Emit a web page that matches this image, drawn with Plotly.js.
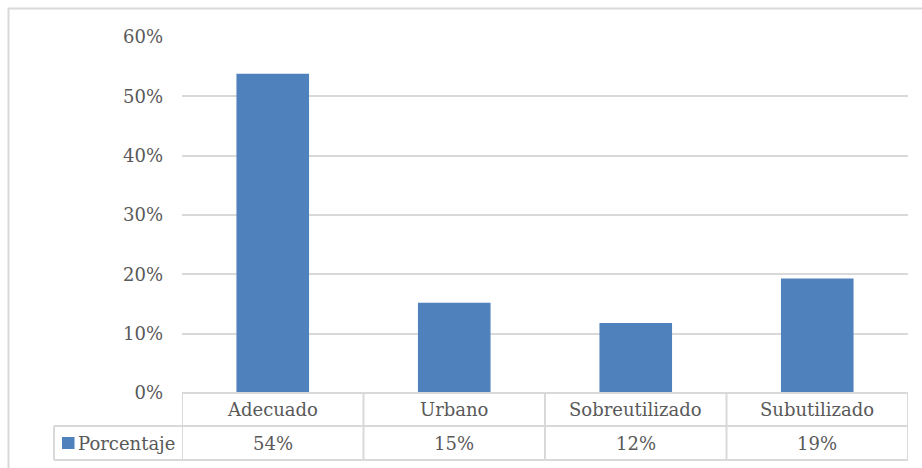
<!DOCTYPE html>
<html>
<head>
<meta charset="utf-8">
<script src="https://cdn.plot.ly/plotly-3.0.1.min.js"></script>
<style>
  html, body { margin: 0; padding: 0; background: #ffffff; }
  #chart { width: 922px; height: 468px; }
</style>
</head>
<body>
<div id="chart"></div>
<script>
// Uso del suelo: porcentaje por categoría
const categorias = ['Adecuado', 'Urbano', 'Sobreutilizado', 'Subutilizado'];
const porcentaje = [0.538, 0.152, 0.118, 0.193];
const serieNombre = 'Porcentaje';
const yTicks = [0, 0.1, 0.2, 0.3, 0.4, 0.5, 0.6];

const FONT = 'DejaVu Serif';
const TEXT = '#595959';
const LINE = '#D9D9D9';
const BAR = '#4F81BD';

// Plot-area geometry (pixels) used to place the data table in paper units
const L = 182, R = 14, T = 37, B = 75, W = 922 - L - R, H = 468 - T - B;
const px = p => (p - L) / W;          // pixel x -> paper x
const py = p => (T + H - p) / H;      // pixel y -> paper y

const rowTop = py(393), rowMid = py(426), rowBot = py(460);
const legendLeft = px(54);

const shapes = [];
const lineStyle = { color: LINE, width: 2 };

// Outer chart frame (left and top edges visible)
shapes.push({ type: 'rect', xref: 'paper', yref: 'paper',
  x0: px(8.5), x1: 1.2, y0: -0.5, y1: py(8.5), line: lineStyle, layer: 'below' });

// Data table: horizontal rules
shapes.push({ type: 'line', xref: 'x', yref: 'paper', x0: -0.5, x1: categorias.length - 0.5,
  y0: rowTop, y1: rowTop, line: lineStyle });
shapes.push({ type: 'line', xref: 'paper', yref: 'paper', x0: legendLeft, x1: 1,
  y0: rowMid, y1: rowMid, line: lineStyle });
shapes.push({ type: 'line', xref: 'paper', yref: 'paper', x0: legendLeft, x1: 1,
  y0: rowBot, y1: rowBot, line: lineStyle });
// Data table: vertical rules at category boundaries
for (let i = 0; i <= categorias.length; i++) {
  shapes.push({ type: 'line', xref: 'x', yref: 'paper', x0: i - 0.5, x1: i - 0.5,
    y0: rowTop, y1: rowBot, line: lineStyle });
}
// Legend cell left edge
shapes.push({ type: 'line', xref: 'paper', yref: 'paper', x0: legendLeft, x1: legendLeft,
  y0: rowMid, y1: rowBot, line: lineStyle });
// Legend key square
shapes.push({ type: 'rect', xref: 'paper', yref: 'paper',
  x0: px(62), x1: px(74.5), y0: py(449), y1: py(437),
  fillcolor: BAR, line: { width: 0 } });

const annotations = [];
const fnt = { family: FONT, size: 18, color: TEXT };
categorias.forEach((c, i) => {
  annotations.push({ x: c, xref: 'x', y: (rowTop + rowMid) / 2, yref: 'paper',
    text: c, showarrow: false, xanchor: 'center', yanchor: 'middle', font: fnt });
  annotations.push({ x: c, xref: 'x', y: (rowMid + rowBot) / 2, yref: 'paper',
    text: Math.round(porcentaje[i] * 100) + '%', showarrow: false,
    xanchor: 'center', yanchor: 'middle', font: fnt });
});
annotations.push({ x: px(76), xref: 'paper', y: (rowMid + rowBot) / 2, yref: 'paper',
  text: serieNombre, showarrow: false, xanchor: 'left', yanchor: 'middle', font: fnt });

const data = [{
  type: 'bar',
  x: categorias,
  y: porcentaje,
  name: serieNombre,
  marker: { color: BAR, line: { width: 0 } },
  width: 0.4,
  hoverinfo: 'x+y'
}];

const layout = {
  width: 922, height: 468,
  margin: { l: L, r: R, t: T, b: B, pad: 0 },
  paper_bgcolor: '#ffffff', plot_bgcolor: '#ffffff',
  showlegend: false,
  font: { family: FONT, size: 18, color: TEXT },
  xaxis: {
    type: 'category', range: [-0.5, categorias.length - 0.5],
    showticklabels: false, showgrid: false, zeroline: false, showline: false, ticks: ''
  },
  yaxis: {
    range: [0, 0.6], tickvals: yTicks, tickformat: '.0%',
    showgrid: true, gridcolor: LINE, gridwidth: 2,
    zeroline: false, showline: false, ticks: '',
    ticklabelstandoff: 18,
    tickfont: { family: FONT, size: 18, color: TEXT }
  },
  shapes: shapes,
  annotations: annotations
};

Plotly.newPlot('chart', data, layout, { displayModeBar: false, staticPlot: true });
</script>
</body>
</html>
